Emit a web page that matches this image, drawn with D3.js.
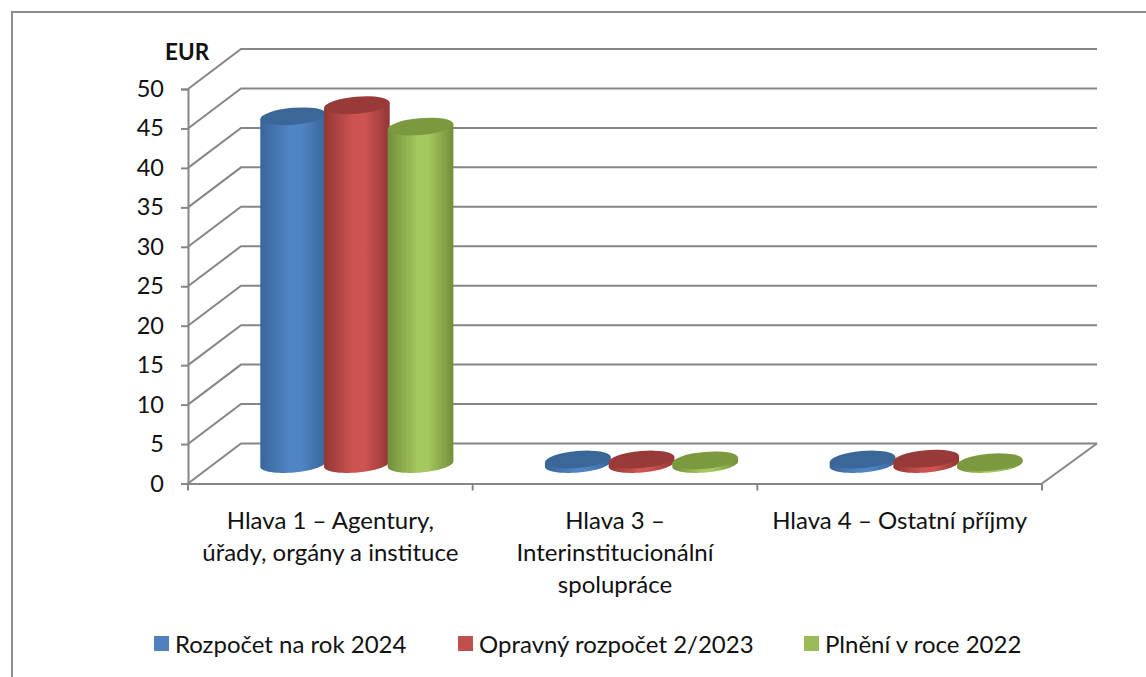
<!DOCTYPE html>
<html lang="cs">
<head>
<meta charset="utf-8">
<script src="https://cdn.jsdelivr.net/npm/d3@7"></script>
<style>
  html, body { margin: 0; padding: 0; background: #fff; }
  svg { display: block; }
  text { font-family: Lato, "Open Sans", sans-serif; fill: #111; }
</style>
</head>
<body>
<div id="chart"></div>
<script>
"use strict";

const categories = [
  ["Hlava 1 – Agentury,", "úřady, orgány a instituce"],
  ["Hlava 3 –", "Interinstitucionální", "spolupráce"],
  ["Hlava 4 – Ostatní příjmy"],
];
const seriesNames = ["Rozpočet na rok 2024", "Opravný rozpočet 2/2023", "Plnění v roce 2022"];
const budget2024 = [44.0, 0.5, 0.5];
const amended2023 = [45.4, 0.5, 0.6];
const actual2022 = [42.7, 0.4, 0.15];
const seriesValues = [budget2024, amended2023, actual2022];
const yTicks = [0, 5, 10, 15, 20, 25, 30, 35, 40, 45, 50];

// edge, middle and top colours per series
const seriesColors = [
  { edge: "#39659a", mid: "#4f85c4", top: "#3a6698", flat: "#4f81bd" },
  { edge: "#933634", mid: "#cd5452", top: "#983a38", flat: "#c0504d" },
  { edge: "#728e3a", mid: "#a4c75e", top: "#7b9a3f", flat: "#9bbb59" },
];

const W = 1146, H = 677;
const FONT = 24;
const GRID = "#868686";

// front plane of the box, the back wall is offset by depth
const x0 = 188, x1 = 1042;
const depthX = 53, depthY = -40;
const backRight = 1097;

const svg = d3.select("#chart").append("svg").attr("width", W).attr("height", H);

const x = d3.scaleBand().domain(d3.range(categories.length)).range([x0, x1]);
const y = d3.scaleLinear().domain([0, 50]).range([483.5, 89]);
const inner = d3.scaleBand().domain(d3.range(seriesNames.length)).range([-95.5, 95.5]);

// Outer frame, only top and left are visible in the picture
svg.append("path")
  .attr("d", `M12,${H}V12H${W}`)
  .attr("fill", "none")
  .attr("stroke", "#8c8c8c")
  .attr("stroke-width", 2);

// Gradients for the cylinder sides
const defs = svg.append("defs");
seriesColors.forEach((c, i) => {
  const g = defs.append("linearGradient").attr("id", `side${i}`);
  g.append("stop").attr("offset", "0%").attr("stop-color", c.edge);
  g.append("stop").attr("offset", "45%").attr("stop-color", c.mid);
  g.append("stop").attr("offset", "62%").attr("stop-color", c.mid);
  g.append("stop").attr("offset", "100%").attr("stop-color", c.edge);
});

// Grid: side wall diagonal + back wall line for every tick
const grid = svg.append("g").attr("fill", "none").attr("stroke", GRID).attr("stroke-width", 2);
grid.selectAll("path.grid")
  .data(yTicks)
  .join("path")
  .attr("class", "grid")
  .attr("d", (d) => `M${x0},${y(d)}L${x0 + depthX},${y(d) + depthY}H${backRight}`);
// Floor right edge
grid.append("path").attr("d", `M${x1},${y(0)}L${backRight},${y(0) + depthY}`);

// Axes
const yAxis = d3.axisLeft(y).tickValues(yTicks).tickSize(7).tickPadding(17);
const xAxis = d3.axisBottom(x).tickValues([]).tickSize(0);

const yG = svg.append("g").attr("transform", `translate(${x0},0)`).call(yAxis);
yG.selectAll("line, path").attr("stroke", GRID).attr("stroke-width", 2);
yG.selectAll("text").attr("font-size", 23.5).attr("fill", "#111").style("font-family", "Lato");

const xG = svg.append("g").attr("transform", `translate(0,${y(0)})`).call(xAxis);
xG.select("path").attr("stroke", GRID).attr("stroke-width", 2);
xG.selectAll("line.sep")
  .data(d3.range(categories.length + 1))
  .join("line")
  .attr("class", "sep")
  .attr("x1", (d) => x0 + d * x.bandwidth())
  .attr("x2", (d) => x0 + d * x.bandwidth())
  .attr("y1", 0)
  .attr("y2", 7)
  .attr("stroke", GRID)
  .attr("stroke-width", 2);

// Cylinders
const rx = 33, ry = 8.5, tilt = -5;
const tiltRad = (tilt * Math.PI) / 180;

// point on the tilted ellipse at parameter t, relative to its centre
function ellipsePoint(t) {
  const ax = rx * Math.cos(t), ay = ry * Math.sin(t);
  return [
    ax * Math.cos(tiltRad) - ay * Math.sin(tiltRad),
    ax * Math.sin(tiltRad) + ay * Math.cos(tiltRad),
  ];
}
const lowerArc = d3.range(0, 49).map((i) => ellipsePoint(Math.PI - (i / 48) * Math.PI));

const rows = [];
seriesValues.forEach((vals, s) => {
  vals.forEach((v, c) => rows.push({ s, c, v }));
});
rows.sort((a, b) => a.c - b.c || a.s - b.s);

const bars = svg.append("g")
  .selectAll("g")
  .data(rows)
  .join("g")
  .attr("transform", (d) => {
    const cx = x(d.c) + x.bandwidth() / 2 + depthX / 2 + inner(d.s) + inner.bandwidth() / 2;
    return `translate(${cx},0)`;
  });

const sideLine = d3.line();
bars.append("path")
  .attr("fill", (d) => `url(#side${d.s})`)
  .attr("d", (d) => {
    const topY = y(d.v) + depthY / 2, baseY = y(0) + depthY / 2 + 0.5;
    const pts = lowerArc.map(([px, py]) => [px, py + baseY]);
    const right = lowerArc[lowerArc.length - 1], left = lowerArc[0];
    pts.push([right[0], right[1] + topY], [left[0], left[1] + topY]);
    return sideLine(pts) + "Z";
  });

bars.append("ellipse")
  .attr("rx", rx)
  .attr("ry", ry)
  .attr("fill", (d) => seriesColors[d.s].top)
  .attr("transform", (d) => `translate(0,${y(d.v) + depthY / 2}) rotate(${tilt})`);

// Category labels
svg.append("g")
  .selectAll("text")
  .data(categories)
  .join("text")
  .attr("text-anchor", "middle")
  .attr("font-size", FONT)
  .attr("transform", (d, i) => `translate(${x(i) + x.bandwidth() / 2},529)`)
  .selectAll("tspan")
  .data((d) => d)
  .join("tspan")
  .attr("x", 0)
  .attr("y", (d, i) => i * 32)
  .text((d) => d);

// Axis unit
svg.append("text")
  .attr("x", 165)
  .attr("y", 60)
  .attr("font-size", 22.5)
  .attr("font-weight", 700)
  .text("EUR");

// Legend
const legendX = d3.scaleOrdinal().domain(d3.range(3)).range([154, 458, 804]);
const legend = svg.append("g")
  .selectAll("g")
  .data(seriesNames)
  .join("g")
  .attr("transform", (d, i) => `translate(${legendX(i)},636)`);
legend.append("rect")
  .attr("width", 15)
  .attr("height", 15)
  .attr("fill", (d, i) => seriesColors[i].flat);
legend.append("text")
  .attr("x", 21)
  .attr("y", 17)
  .attr("font-size", FONT)
  .text((d) => d);
</script>
</body>
</html>
